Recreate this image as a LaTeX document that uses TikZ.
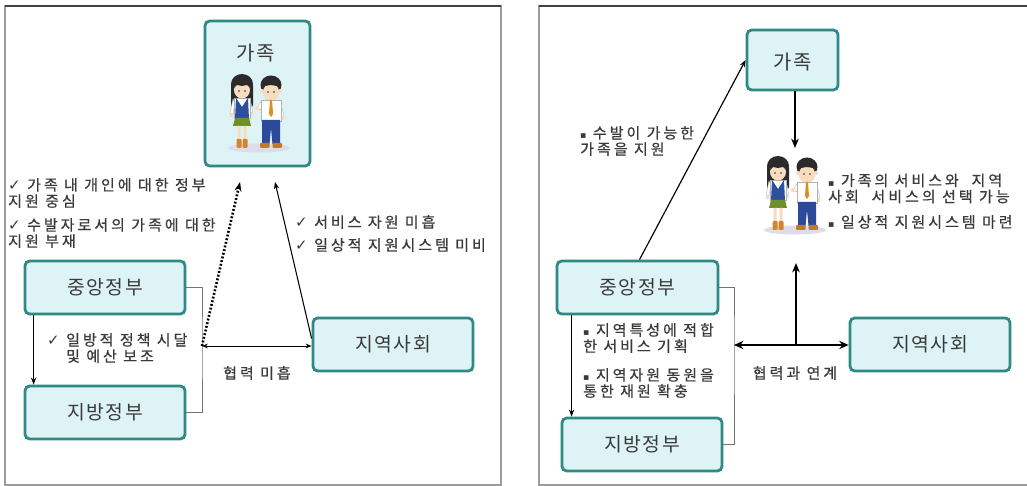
\documentclass[tikz,border=0pt]{standalone}
\usepackage{fontspec}
\setmainfont{Noto Sans CJK KR}
\newfontfamily\notefont[LetterSpace=20, FakeBold=0.6]{Noto Sans CJK KR}
\newfontfamily\labelfont[LetterSpace=8]{Noto Sans CJK KR}
\newfontfamily\symfont{DejaVu Sans}
\usetikzlibrary{arrows.meta}
\newdimen\ux \ux=0.03cm
\newcommand\chk{{\symfont ✓}}
\newcommand\sqb{{\symfont\footnotesize ▪}}
\definecolor{tealline}{HTML}{2E8A82}
\definecolor{boxfill}{HTML}{DDF3F6}
\definecolor{ink}{HTML}{3A3A3A}
\definecolor{framegray}{HTML}{9C9C9C}
\definecolor{hairc}{HTML}{2B2B2B}
\definecolor{skin}{HTML}{F8DCC0}
\definecolor{vestblue}{HTML}{2C4F9E}
\definecolor{skirtgreen}{HTML}{6E8F2A}
\definecolor{bootc}{HTML}{D4862E}
\definecolor{tiec}{HTML}{D9901F}
\definecolor{pantsblue}{HTML}{2D4A9A}
\definecolor{shoec}{HTML}{C07A2A}
\definecolor{shadowc}{HTML}{DCDCEA}
\tikzset{
  box/.style={draw=tealline, fill=boxfill, line width=2.4pt, rounded corners=4pt,
    minimum width=160\ux, minimum height=53\ux, inner sep=0pt, text=ink,
    font=\labelfont\fontsize{16.5}{18}\selectfont},
  boxlabel/.style={text=ink, inner sep=0pt, font=\labelfont\fontsize{17}{18}\selectfont},
  note/.style={text=ink, inner sep=0pt, anchor=west, align=left,
    font=\notefont\fontsize{12.8}{13.8}\selectfont},
  thinarr/.style={-{Stealth[length=6pt,width=4.5pt]}, line width=0.9pt},
  bigarr/.style={-{Stealth[length=8pt,width=6.5pt]}, line width=1.9pt},
  bracket/.style={draw=black!55, line width=0.7pt},
  people/.pic={
    % ground shadow
    \fill[shadowc] (2,0) ellipse [x radius=31\ux, y radius=4.5\ux];
    % girl
    \fill[hairc] (-15,-64) ellipse [x radius=11\ux, y radius=10\ux];
    \fill[hairc, rounded corners=2\ux] (-26,-64) rectangle (-4,-41);
    \fill[skin] (-15,-58) ellipse [x radius=8\ux, y radius=8.5\ux];
    \fill[hairc] (-23,-60) to[out=80,in=180] (-15,-68) to[out=0,in=100] (-7,-60)
      -- (-10,-63) -- (-15,-62) -- (-20,-63) -- cycle;
    \fill[hairc] (-18,-57) circle [radius=0.8\ux] (-12,-57) circle [radius=0.8\ux];
    \fill[white, draw=black!30, line width=0.3pt] (-24,-49) -- (-27,-35) -- (-24,-34) -- (-22,-45) -- cycle;
    \fill[white, draw=black!30, line width=0.3pt] (-7,-49) -- (-4,-36) -- (-7,-35) -- (-9,-45) -- cycle;
    \fill[skin] (-25.5,-32.5) circle [radius=2\ux] (-5.5,-33.5) circle [radius=2\ux];
    \fill[white, draw=black!30, line width=0.3pt] (-23,-50) -- (-7,-50) -- (-7,-30) -- (-23,-30) -- cycle;
    \fill[vestblue] (-21,-50) -- (-15,-41) -- (-9,-50) -- (-8,-29) -- (-22,-29) -- cycle;
    \fill[skirtgreen] (-22,-30) -- (-8,-30) -- (-6,-22) -- (-24,-22) -- cycle;
    \fill[skin] (-19.5,-22) rectangle (-16.5,-7) (-13.5,-22) rectangle (-10.5,-7);
    \fill[bootc, rounded corners=1\ux] (-20.5,-9) rectangle (-15.5,0);
    \fill[bootc, rounded corners=1\ux] (-14.5,-9) rectangle (-9.5,0);
    % boy
    \fill[hairc] (14,-63) ellipse [x radius=10.5\ux, y radius=9.5\ux];
    \fill[skin] (5,-57) circle [radius=2\ux] (23,-57) circle [radius=2\ux];
    \fill[skin] (14,-56) ellipse [x radius=8.5\ux, y radius=9\ux];
    \fill[hairc] (6,-58) to[out=90,in=180] (14,-68) to[out=0,in=90] (22,-58)
      -- (20,-62) -- (14,-63) -- (8,-62) -- cycle;
    \fill[hairc] (11,-56) circle [radius=0.8\ux] (17,-56) circle [radius=0.8\ux];
    \fill[white, draw=black!30, line width=0.3pt] (5,-48) -- (0,-40) -- (3,-38) -- (7,-43) -- cycle;
    \fill[white, draw=black!30, line width=0.3pt] (23,-48) -- (27,-32) -- (24,-31) -- (21,-42) -- cycle;
    \fill[skin] (0,-40) circle [radius=2.3\ux] (25.5,-30) circle [radius=2.2\ux];
    \fill[white, draw=black!30, line width=0.3pt] (4,-48) -- (24,-48) -- (24,-27) -- (4,-27) -- cycle;
    \fill[tiec] (13,-48) -- (15,-48) -- (16,-34) -- (14,-31) -- (12,-34) -- cycle;
    \fill[pantsblue] (5,-28) -- (23,-28) -- (23,-4) -- (15.5,-4) -- (14,-20) -- (12.5,-4) -- (5,-4) -- cycle;
    \fill[shoec, rounded corners=1\ux] (3,-5) rectangle (12.5,0);
    \fill[shoec, rounded corners=1\ux] (15.5,-5) rectangle (25,0);
  }
}
\begin{document}
\begin{tikzpicture}[x=0.03cm, y=-0.03cm]
\useasboundingbox (0,0) rectangle (1027,486);
\clip (0,0) rectangle (1027,486);
\fill[white] (0,0) rectangle (1027,486);

% ---------- panel frames ----------
\draw[framegray, line width=1.3pt] (5,6) rectangle (501,485);
\draw[black!75, line width=1.5pt] (5,6) -- (501,6);
\draw[framegray, line width=1.3pt] (539,6) rectangle (1040,485);
\draw[black!75, line width=1.5pt] (539,6) -- (1040,6);

% ================= left panel =================
\node[box, minimum width=105\ux, minimum height=145\ux] (famL) at (257.5,93.5) {};
\node[boxlabel] (famLt) at (256,53) {가족};
\pic at (257,148) {people};

\node[box] (cgL) at (105,287.5) {중앙정부};
\node[box] (lgL) at (105,412.5) {지방정부};
\node[box] (commL) at (393,344.5) {지역사회};

\coordinate (brL) at (202,346);
\coordinate (tipA) at (240,182);
\coordinate (tipB) at (275,182);

\draw[bracket] (cgL.east) -| (brL) |- (lgL.east);
\draw[thinarr, line width=1.1pt] ([xshift=10\ux]cgL.south west) -- ([xshift=10\ux]lgL.north west);
\draw[{Stealth[length=5pt,width=4pt]}-{Stealth[length=5pt,width=4pt]}, line width=0.8pt] (brL) -- (brL -| commL.west);
\draw[-{Stealth[length=8pt,width=6pt]}, line width=2.2pt, dash pattern=on 1.6pt off 1.6pt] (brL) -- (tipA);
\draw[thinarr] ([yshift=6\ux]commL.west) -- (tipB);

\node[note] (nL1) at (8,193) {\chk\ 가족 내 개인에 대한 정부\\지원 중심};
\node[note] (nL2) at (8,233) {\chk\ 수발자로서의 가족에 대한\\지원 부재};
\node[note] (nL3) at (295,222) {\chk\ 서비스 자원 미흡};
\node[note] (nL4) at (295,245) {\chk\ 일상적 지원시스템 미비};
\node[note] (nL5) at (47,348) {\chk\ 일방적 정책 시달\\\phantom{\chk\ }및 예산 보조};
\node[note, anchor=center] (nL6) at (257,373) {협력 미흡};

% ================= right panel =================
\node[box, minimum width=91\ux, minimum height=60\ux] (famR) at (792.5,60) {};
\node[boxlabel] (famRt) at (792.5,62) {가족};
\pic at (793,230) {people};

\node[box, minimum width=161\ux] (cgR) at (637.5,287.5) {중앙정부};
\node[box] (lgR) at (642,444.5) {지방정부};
\node[box] (commR) at (930,344.5) {지역사회};

\coordinate (brR) at (734,345);
\coordinate (hubR) at (796,345);
\coordinate (upR) at (796,263);
\coordinate (downR) at (795,148);

\draw[bracket] (cgR.east) -| (brR) |- (lgR.east);
\draw[thinarr, line width=0.8pt] ([xshift=16\ux]cgR.south west) -- ([xshift=11\ux]lgR.north west);
\draw[thinarr, line width=1pt] ([xshift=2\ux]cgR.north) -- (famR.west);
\draw[bigarr] ([xshift=2.5\ux]famR.south) -- (downR);
\draw[{Stealth[length=8pt,width=7pt]}-{Stealth[length=8pt,width=7pt]}, line width=1.7pt] (brR) -- (brR -| commR.west);
\draw[bigarr] (hubR) -- (upR);

\node[note] (nR1) at (580,141) {\sqb\ 수발이 가능한\\가족을 지원};
\node[note] (nR2) at (828,188.5) {\sqb\ 가족의 서비스와 \ 지역\\사회 \ 서비스의 선택 가능};
\node[note] (nR3) at (828,222) {\sqb\ 일상적 지원시스템 마련};
\node[note] (nR4) at (583,338) {\sqb\ 지역특성에 적합\\한 서비스 기획};
\node[note] (nR5) at (583,383) {\sqb\ 지역자원 동원을\\통한 재원 확충};
\node[note, anchor=center] (nR6) at (795,373) {협력과 연계};
\end{tikzpicture}
\end{document}
